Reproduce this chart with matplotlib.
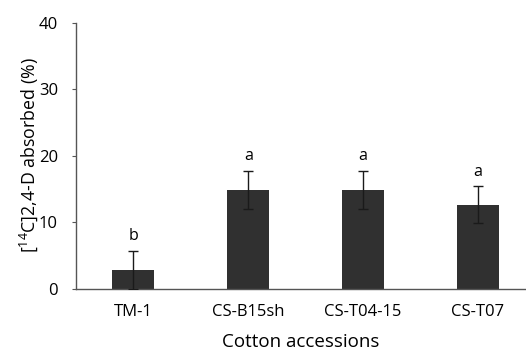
import matplotlib
matplotlib.use('Agg')
import matplotlib.pyplot as plt

# ── 데이터 ──
accessions = ['TM-1', 'CS-B15sh', 'CS-T04-15', 'CS-T07']
absorbed = [2.85, 14.9, 14.9, 12.7]
errors = [2.85, 2.9, 2.9, 2.75]
letters = ['b', 'a', 'a', 'a']

plt.rcParams['font.family'] = ['Open Sans', 'DejaVu Sans']
plt.rcParams['mathtext.fontset'] = 'custom'
plt.rcParams['mathtext.rm'] = 'Open Sans'

fig = plt.figure(figsize=(5.26, 3.52), dpi=100)
ax = fig.add_axes([0.1445, 0.179, 1 - 0.1445, 0.7557])

x = range(len(accessions))
ax.bar(x, absorbed, width=0.365, color='#303030', zorder=2)
ax.errorbar(x, absorbed, yerr=errors, fmt='none', ecolor='#1a1a1a',
            elinewidth=1.0, capsize=3.5, capthick=1.0, zorder=3)

for xi, v, e, lab in zip(x, absorbed, errors, letters):
    ax.text(xi, v + e + 1.0, lab, ha='center', va='bottom', fontsize=11.5, color='black')

ax.set_xlim(-0.5, 3.42)
ax.set_ylim(0, 40)
ax.set_yticks([0, 10, 20, 30, 40])
ax.set_xticks(list(x))
ax.set_xticklabels(accessions)

for s in ['top', 'right']:
    ax.spines[s].set_visible(False)
for s in ['left', 'bottom']:
    ax.spines[s].set_color('#555555')
    ax.spines[s].set_linewidth(1.0)

ax.tick_params(axis='y', direction='out', length=3, color='#555555', labelsize=12, pad=10)
ax.tick_params(axis='x', length=0, labelsize=12, pad=11)

ax.set_xlabel('Cotton accessions', fontsize=13.5, labelpad=9)
ax.set_ylabel(r'[$^{\mathregular{14}}$C]2,4-D absorbed (%)', fontsize=12.8)
ax.yaxis.set_label_coords(-0.08, 0.505)

fig.savefig('out.png', dpi=100)
